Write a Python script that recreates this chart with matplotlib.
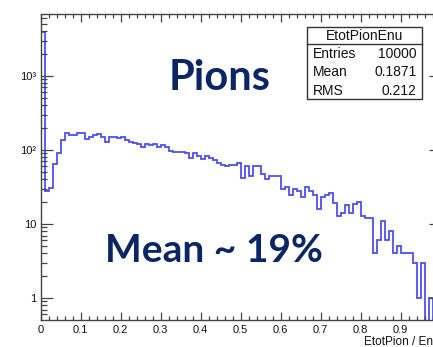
import numpy as np
import matplotlib
matplotlib.use("Agg")
import matplotlib.pyplot as plt
from matplotlib.patches import Rectangle
from matplotlib.lines import Line2D
from matplotlib.ticker import MultipleLocator, FixedLocator, FixedFormatter, LogLocator, NullFormatter, FuncFormatter

# -------------------------------------------------------------------
# Datos del histograma EtotPion / Enu (100 bins entre 0 y 1)
# -------------------------------------------------------------------
bin_edges = np.linspace(0.0, 1.0, 101)
counts = [
    3950, 28, 31, 65, 92, 135, 170, 162, 160, 170,
    170, 142, 150, 158, 164, 151, 129, 148, 148, 144,
    150, 136, 129, 123, 121, 111, 119, 117, 122, 111,
    117, 109, 98, 93, 95, 95, 90, 79, 92, 82,
    75, 83, 78, 74, 66, 63, 61, 63, 63, 67,
    42, 60, 45, 60, 60, 48, 41, 45, 45, 45,
    30, 32, 25, 30, 28, 23, 32, 28, 25, 16,
    23, 25, 26, 19, 13, 14, 18, 14, 18.5, 20,
    13, 12, 12, 4, 6, 11, 6, 8, 4, 5,
    4, 4, 4, 3, 1, 3, 0, 1, 0, 0,
]

stats_name = "EtotPionEnu"
stats_rows = [("Entries", "10000"), ("Mean", "0.1871"), ("RMS", "0.212")]

# el tick en 1 queda fuera de la imagen recortada, por eso no lleva etiqueta
x_ticks = [0, 0.1, 0.2, 0.3, 0.4, 0.5, 0.6, 0.7, 0.8, 0.9]
y_ticks = [1, 10, 100, 1000]
y_tick_labels = ["1", "10", "10²", "10³"]

W, H = 433, 347
plt.rcParams["font.family"] = ["Liberation Sans", "DejaVu Sans"]


def fx(px):
    return px / W


def fy(py):
    return 1 - py / H


fig = plt.figure(figsize=(W / 100, H / 100), dpi=100)
# El eje se sale del lienzo por la derecha (la imagen original esta recortada)
ax = fig.add_axes([fx(40.7), fy(320), fx(440.7) - fx(40.7), fy(14) - fy(320)])

vals = np.array(counts, dtype=float)
vals_plot = np.where(vals > 0, vals, 1e-2)
ax.stairs(vals_plot, bin_edges, baseline=1e-2, color="#4f4ff5", lw=1.3)

ax.set_yscale("log")
ax.set_xlim(0, 1)
ax.set_ylim(0.505, 6890)

ax.xaxis.set_major_locator(FixedLocator(x_ticks))
ax.xaxis.set_major_formatter(FuncFormatter(lambda v, p: f"{v:g}"))
ax.xaxis.set_minor_locator(MultipleLocator(0.02))
ax.yaxis.set_major_locator(FixedLocator(y_ticks))
ax.yaxis.set_major_formatter(FixedFormatter(y_tick_labels))
ax.yaxis.set_minor_locator(LogLocator(base=10, subs=np.arange(2, 10)))
ax.yaxis.set_minor_formatter(NullFormatter())

ax.tick_params(which="both", direction="in", top=True, right=True,
               color="#444444", width=0.9, labelsize=8, labelcolor="#111111")
ax.tick_params(axis="x", which="major", length=5.8, pad=3.5)
ax.tick_params(axis="x", which="minor", length=2.9)
ax.tick_params(axis="y", which="major", length=8.6, pad=3.4)
ax.tick_params(axis="y", which="minor", length=4.3)
for s in ax.spines.values():
    s.set_color("#444444")
    s.set_linewidth(1.0)

# titulo del eje x (queda cortado por la derecha como en el original)
fig.text(fx(440), fy(336), "EtotPion / Enu", ha="right", va="top", fontsize=8.5, color="#111111")

# caja de estadisticas
bx0, by0, bx1, by1 = 307, 26.7, 421.7, 99.3
fig.patches.append(Rectangle((fx(bx0), fy(by1)), fx(bx1) - fx(bx0), fy(by0) - fy(by1),
                             transform=fig.transFigure, facecolor="white",
                             edgecolor="#333333", lw=1.0, zorder=5))
fig.lines.append(Line2D([fx(bx0), fx(bx1)], [fy(43.7), fy(43.7)],
                        transform=fig.transFigure, color="#333333", lw=1.0, zorder=6))
fig.text(fx((bx0 + bx1) / 2), fy(35.5), stats_name, ha="center", va="center",
         fontsize=10, color="#111111", zorder=7)
for i, (lab, val) in enumerate(stats_rows):
    yy = 54.3 + i * 18.2
    fig.text(fx(313), fy(yy), lab, ha="left", va="center", fontsize=10, color="#111111", zorder=7)
    fig.text(fx(416.5), fy(yy), val, ha="right", va="center", fontsize=10, color="#111111", zorder=7)

# textos grandes
navy = "#0b2565"
fig.text(fx(220), fy(90), "Pions", ha="center", va="baseline", fontsize=30,
         fontweight="bold", family=["Lato", "DejaVu Sans"], color=navy)
fig.text(fx(213.5), fy(262), "Mean ~ 19%", ha="center", va="baseline", fontsize=28,
         fontweight="bold", family=["Lato", "DejaVu Sans"], color=navy)

fig.savefig("out.png", dpi=100)
